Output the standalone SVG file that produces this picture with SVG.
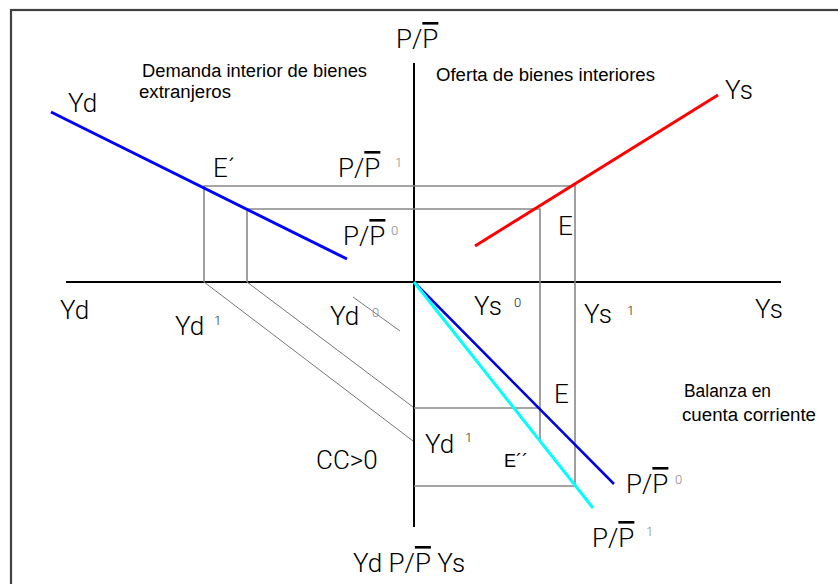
<svg xmlns="http://www.w3.org/2000/svg" width="838" height="584" viewBox="0 0 838 584">
<style>
.big{font-family:Roboto,"Liberation Sans",Arial,sans-serif;font-weight:300;font-size:26px;fill:#000}
.sm{font-family:"Liberation Sans",Arial,sans-serif;font-size:18px;fill:#000}
.sup{font-family:Roboto,"Liberation Sans",Arial,sans-serif;font-weight:300;font-size:13px;fill:#222}
.supg{font-family:Roboto,"Liberation Sans",Arial,sans-serif;font-weight:300;font-size:13px;fill:#888}
.ov{text-decoration:overline}
.axis{stroke:#000;stroke-width:2;fill:none}
.guide{stroke:#888;stroke-width:1.6;fill:none}
.thin{stroke:#777;stroke-width:1;fill:none}
</style>
<rect x="0" y="0" width="838" height="584" fill="#fff"/>
<rect id="frame" x="11" y="10" width="900" height="700" fill="none" stroke="#404040" stroke-width="2.2"/>

<g id="connectors">
  <line class="axis" x1="414" y1="63" x2="414" y2="527"/>
  <line class="axis" x1="66" y1="282" x2="781" y2="282"/>
  <polyline class="guide" points="204,282 204,186 575,186 575,486 414,486"/>
  <polyline class="guide" points="247,282 247,209 540,209 540,442"/>
  <line class="guide" x1="414" y1="408" x2="540" y2="408"/>
  <line class="thin" x1="204" y1="282" x2="413" y2="441"/>
  <line class="thin" x1="247" y1="282" x2="413" y2="407"/>
  <line class="thin" x1="353" y1="297" x2="400" y2="331"/>
</g>

<g id="curve-Yd"><line x1="51" y1="112" x2="347" y2="259" stroke="#0000ff" stroke-width="3"/></g>
<g id="curve-Ys"><line x1="475" y1="246" x2="718" y2="95" stroke="#ff0000" stroke-width="3"/></g>
<g id="curve-CC0"><line x1="414" y1="282" x2="614" y2="484" stroke="#0000dd" stroke-width="2.5"/></g>
<g id="curve-CC1"><line x1="414" y1="282" x2="593" y2="508" stroke="#00ffff" stroke-width="3"/></g>

<g id="labels">
  <text class="sm" x="142" y="77" textLength="225" lengthAdjust="spacingAndGlyphs">Demanda interior de bienes</text>
  <text class="sm" x="139" y="98" textLength="92" lengthAdjust="spacingAndGlyphs">extranjeros</text>
  <text class="sm" x="436" y="81" textLength="219" lengthAdjust="spacingAndGlyphs">Oferta de bienes interiores</text>
  <text class="sm" x="684" y="397" textLength="87" lengthAdjust="spacingAndGlyphs">Balanza en</text>
  <text class="sm" x="682" y="421" textLength="134" lengthAdjust="spacingAndGlyphs">cuenta corriente</text>

  <text class="big" x="396" y="48">P/<tspan class="ov">P</tspan></text>
  <text class="big" x="68" y="112">Yd</text>
  <text class="big" x="725" y="99">Ys</text>
  <text class="big" x="213" y="177">E´</text>
  <text class="big" x="338" y="177">P/<tspan class="ov">P</tspan></text>
  <text class="supg" x="395" y="167">1</text>
  <text class="big" x="343" y="245">P/<tspan class="ov">P</tspan></text>
  <text class="supg" x="391" y="235">0</text>
  <text class="big" x="558" y="235">E</text>

  <text class="big" x="60" y="319">Yd</text>
  <text class="big" x="175" y="335">Yd</text>
  <text class="sup" x="214" y="325">1</text>
  <text class="big" x="330" y="325">Yd</text>
  <text class="supg" x="372" y="317">0</text>
  <text class="big" x="474" y="315">Ys</text>
  <text class="sup" x="514" y="307">0</text>
  <text class="big" x="584" y="323">Ys</text>
  <text class="sup" x="627" y="315">1</text>
  <text class="big" x="755" y="318">Ys</text>

  <text class="big" x="554" y="403">E</text>
  <text class="big" x="425" y="453">Yd</text>
  <text class="sup" x="465" y="442">1</text>
  <text class="sm" x="504" y="467" font-size="16">E´´</text>
  <text class="big" x="316" y="469">CC&gt;0</text>
  <text class="big" x="626" y="493">P/<tspan class="ov">P</tspan></text>
  <text class="supg" x="675" y="484">0</text>
  <text class="big" x="592" y="547">P/<tspan class="ov">P</tspan></text>
  <text class="supg" x="646" y="536">1</text>
  <text class="big" x="353" y="572">Yd P/<tspan class="ov">P</tspan> Ys</text>
</g>
</svg>
